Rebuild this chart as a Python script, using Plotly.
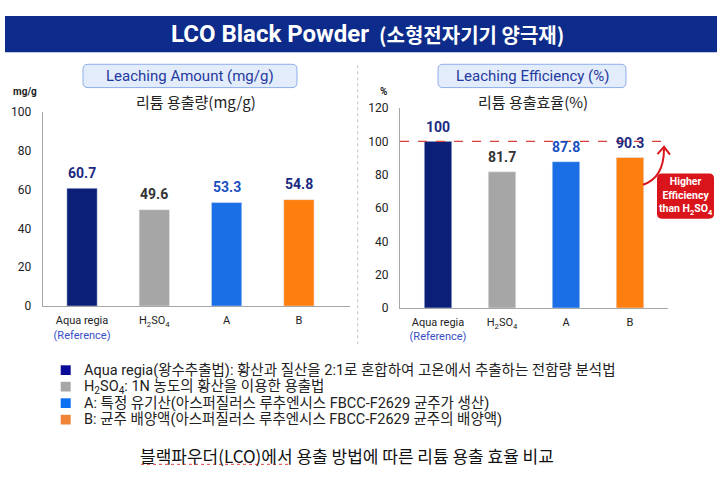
import plotly.graph_objects as go

W, H = 717, 482

# ---- data ----
categories = ["Aqua regia (Reference)", "H2SO4", "A", "B"]
tick_labels = ["Aqua regia<br><span style='color:#3a4fc6'>(Reference)</span>",
               "H<sub>2</sub>SO<sub>4</sub>", "A", "B"]
leach_amount = [60.7, 49.6, 53.3, 54.8]          # mg/g
leach_eff = [100, 81.7, 87.8, 90.3]              # %
bar_colors = ["#0b1f78", "#a6a6a6", "#1a6fe6", "#ff7f0e"]
label_colors = ["#1a2a80", "#333333", "#1a4fc0", "#1a2a80"]
ref_value = 100
left_ticks = [0, 20, 40, 60, 80, 100]
right_ticks = [0, 20, 40, 60, 80, 100, 120]
legend_colors = ["#0a0a98", "#a6a6a6", "#0a6ff0", "#ef8438"]
legend_texts = [
    "Aqua regia(왕수추출법): 황산과 질산을 2:1로 혼합하여 고온에서 추출하는 전함량 분석법",
    "H<sub>2</sub>SO<sub>4</sub>: 1N 농도의 황산을 이용한 용출법",
    "A: 특정 유기산(아스퍼질러스 루추엔시스 FBCC-F2629 균주가 생산)",
    "B: 균주 배양액(아스퍼질러스 루추엔시스 FBCC-F2629 균주의 배양액)",
]
title_en = "LCO Black Powder"
title_ko = "(소형전자기기 양극재)"
caption = "블랙파우더(LCO)에서 용출 방법에 따른 리튬 용출 효율 비교"


def px(x):
    return x / W


def py(y):
    return 1 - y / H


def P(x, y):
    return f"{px(x):.5f},{py(y):.5f}"


def rrect(x0, y0, x1, y1, r):
    return (f"M {P(x0 + r, y0)} L {P(x1 - r, y0)} Q {P(x1, y0)} {P(x1, y0 + r)} "
            f"L {P(x1, y1 - r)} Q {P(x1, y1)} {P(x1 - r, y1)} L {P(x0 + r, y1)} "
            f"Q {P(x0, y1)} {P(x0, y1 - r)} L {P(x0, y0 + r)} Q {P(x0, y0)} {P(x0 + r, y0)} Z")


fig = go.Figure()
fig.add_trace(go.Bar(x=categories, y=leach_amount, marker_color=bar_colors,
                     width=0.42, xaxis="x", yaxis="y", showlegend=False,
                     hoverinfo="skip"))
fig.add_trace(go.Bar(x=categories, y=leach_eff, marker_color=bar_colors,
                     width=0.43, xaxis="x2", yaxis="y2", showlegend=False,
                     hoverinfo="skip"))

axis_common = dict(showline=True, linecolor="#a6a6a6", linewidth=1,
                   showgrid=False, zeroline=False, ticks="")
xfont = dict(family="Roboto", size=11, color="#222222")
yfont = dict(family="Roboto", size=12, color="#222222")

fig.update_layout(
    width=W, height=H, margin=dict(l=0, r=0, t=0, b=0),
    paper_bgcolor="white", plot_bgcolor="white",
    xaxis=dict(domain=[px(42.7), px(350)], range=[-0.544, 3.707],
               tickvals=categories, ticktext=tick_labels, ticklabelstandoff=4,
               tickfont=xfont, anchor="y", **axis_common),
    yaxis=dict(domain=[py(308), py(108)], range=[0, 100], tickvals=left_ticks,
               ticklabelstandoff=8, tickfont=yfont, anchor="x", **axis_common),
    xaxis2=dict(domain=[px(400), px(668)], range=[-0.594, 3.594],
                tickvals=categories, ticktext=tick_labels, ticklabelstandoff=4,
                tickfont=xfont, anchor="y2", **axis_common),
    yaxis2=dict(domain=[py(310), py(104)], range=[0, 120], tickvals=right_ticks,
                ticklabelstandoff=8, tickfont=yfont, anchor="x2", **axis_common),
    hovermode=False,
)

shapes = []
annotations = []

# title bar
shapes.append(dict(type="rect", xref="paper", yref="paper", x0=px(5), x1=px(717),
                   y0=py(46.7), y1=py(9.3), fillcolor="#0c2b8b", line_width=0, layer="below"))
annotations.append(dict(xref="paper", yref="paper", x=px(371), y=py(28), xanchor="right",
                        yanchor="middle", showarrow=False, text=f"<b>{title_en}</b>",
                        font=dict(family="Roboto", size=24, color="white")))
annotations.append(dict(xref="paper", yref="paper", x=px(377), y=py(28.5), xanchor="left",
                        yanchor="middle", showarrow=False, text=f"<b>{title_ko}</b>",
                        font=dict(family="Noto Sans CJK KR", size=20, color="white")))

# header boxes
for (x0, x1, txt) in [(83, 297, "Leaching Amount (mg/g)"), (438, 626, "Leaching Efficiency (%)")]:
    shapes.append(dict(type="path", xref="paper", yref="paper", path=rrect(x0, 59, x1, 83, 5),
                       fillcolor="#e3ecfb", line=dict(color="#8eaee8", width=1)))
    annotations.append(dict(xref="paper", yref="paper", x=px((x0 + x1) / 2), y=py(71),
                            xanchor="center", yanchor="middle", showarrow=False, text=txt,
                            font=dict(family="Roboto", size=15, color="#1f3aa0")))

# subtitles
annotations.append(dict(xref="paper", yref="paper", x=px(196), y=py(97), xanchor="center",
                        yanchor="middle", showarrow=False, text="리튬 용출량(mg/g)",
                        font=dict(family="Noto Sans CJK KR", size=15, color="#222222")))
annotations.append(dict(xref="paper", yref="paper", x=px(533), y=py(97), xanchor="center",
                        yanchor="middle", showarrow=False, text="리튬 용출효율(%)",
                        font=dict(family="Noto Sans CJK KR", size=15, color="#222222")))
# unit labels
annotations.append(dict(xref="paper", yref="paper", x=px(25), y=py(87), xanchor="center",
                        yanchor="middle", showarrow=False, text="<b>mg/g</b>",
                        font=dict(family="Roboto", size=10, color="#222222")))
annotations.append(dict(xref="paper", yref="paper", x=px(383), y=py(87), xanchor="center",
                        yanchor="middle", showarrow=False, text="<b>%</b>",
                        font=dict(family="Roboto", size=10, color="#222222")))

# value labels
for c, v, col in zip(categories, leach_amount, label_colors):
    annotations.append(dict(xref="x", yref="y", x=c, y=v, yshift=15.5, xanchor="center",
                            yanchor="middle", showarrow=False, text=f"<b>{v}</b>",
                            font=dict(family="Roboto", size=14, color=col)))
for c, v, col in zip(categories, leach_eff, label_colors):
    annotations.append(dict(xref="x2", yref="y2", x=c, y=v, yshift=14.5, xanchor="center",
                            yanchor="middle", showarrow=False, text=f"<b>{v:g}</b>",
                            font=dict(family="Roboto", size=14, color=col)))

# separator
shapes.append(dict(type="line", xref="paper", yref="paper", x0=px(357.7), x1=px(357.7),
                   y0=py(60), y1=py(348), line=dict(color="#c4c4c4", width=1, dash="dot")))

# reference line at 100%
shapes.append(dict(type="line", xref="paper", yref="y2", x0=px(400), x1=px(665),
                   y0=ref_value, y1=ref_value, line=dict(color="#d9413b", width=1.2, dash="dash")))

# curved arrow
shapes.append(dict(type="path", xref="paper", yref="paper",
                   path=f"M {P(643, 183)} Q {P(664, 176)} {P(664, 146)}",
                   line=dict(color="#d9141b", width=2)))
shapes.append(dict(type="path", xref="paper", yref="paper",
                   path=f"M {P(657.5, 151.5)} L {P(664, 144)} L {P(670, 152)}",
                   line=dict(color="#d9141b", width=2)))
# red box
shapes.append(dict(type="path", xref="paper", yref="paper", path=rrect(657, 171.5, 714, 218, 5),
                   fillcolor="#d9141b", line_width=0))
annotations.append(dict(xref="paper", yref="paper", x=px(685.5), y=py(195), xanchor="center",
                        yanchor="middle", showarrow=False,
                        text="<b>Higher<br>Efficiency<br>than H<sub>2</sub>SO<sub>4</sub></b>",
                        font=dict(family="Roboto", size=10.5, color="white")))

# legend
for i, (col, txt) in enumerate(zip(legend_colors, legend_texts)):
    yc = 374 + 17 * i
    shapes.append(dict(type="rect", xref="paper", yref="paper", x0=px(60.7), x1=px(70.7),
                       y0=py(yc + 5), y1=py(yc - 5), fillcolor=col, line_width=0))
    annotations.append(dict(xref="paper", yref="paper", x=px(82), y=py(yc), xanchor="left",
                            yanchor="middle", showarrow=False, text=txt,
                            font=dict(family="Roboto, Noto Sans CJK KR", size=14.5,
                                      color="#222222")))

# caption
annotations.append(dict(xref="paper", yref="paper", x=px(347), y=py(462), xanchor="center",
                        yanchor="middle", showarrow=False, text=caption,
                        font=dict(family="Noto Sans CJK KR", size=17, color="#111111")))
shapes.append(dict(type="line", xref="paper", yref="paper", x0=px(141), x1=px(289),
                   y0=py(471), y1=py(471), line=dict(color="#e04040", width=1, dash="dot")))

fig.update_layout(shapes=shapes, annotations=annotations)
fig.write_html("out.html", config={"displayModeBar": False})
